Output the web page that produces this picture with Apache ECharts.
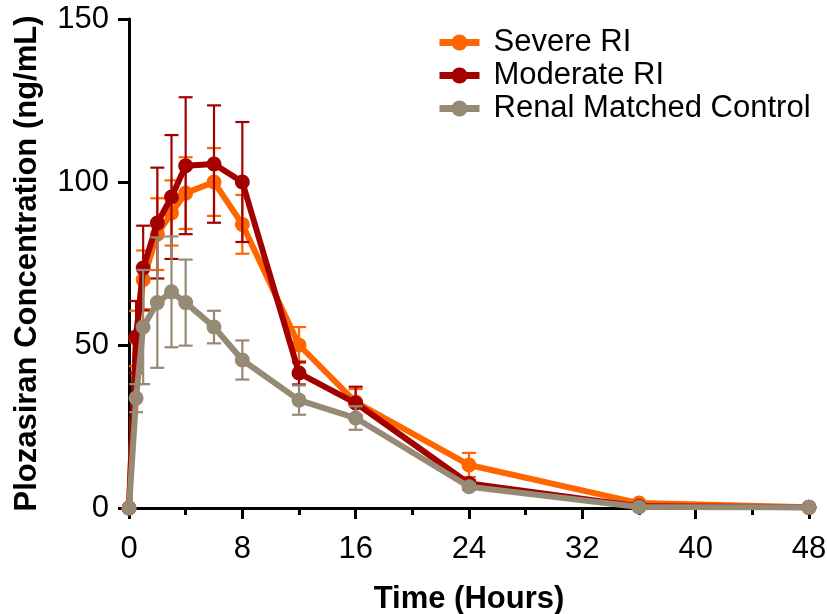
<!DOCTYPE html>
<html>
<head>
<meta charset="utf-8">
<script src="https://cdn.jsdelivr.net/npm/echarts@6/dist/echarts.min.js"></script>
<style>html,body{margin:0;padding:0;background:#fff}#c{width:827px;height:614px}</style>
</head>
<body>
<div id="c"></div>
<script>
const times = [0, 0.5, 1, 2, 3, 4, 6, 8, 12, 16, 24, 36, 48];
const severe = [0, 52, 70, 84, 90.5, 96.6, 100, 87, 50, 32.5, 13.2, 1.5, 0.2];
const severeErr = [0, 8.5, 9, 11, 10, 11, 10.4, 9, 5.5, 4, 3.7, 0.5, 0];
const moderate = [0, 52.5, 73.6, 87.4, 95.4, 105, 105.5, 100, 41.4, 32.2, 7.5, 0.5, 0.2];
const moderateErr = [0, 11, 13, 17, 19, 21, 18, 18.4, 3.5, 5, 1, 0.3, 0];
const control = [0, 33.7, 55.5, 63, 66.3, 63, 55.5, 45.4, 33.1, 27.6, 6.5, 0.3, 0.2];
const controlErr = [0, 4.3, 17.5, 20, 17, 13.2, 5, 6, 4.5, 3.6, 1, 0.2, 0];
const xTicks = [0, 8, 16, 24, 32, 40, 48];
const yTicks = [0, 50, 100, 150];

const names = ['Severe RI', 'Moderate RI', 'Renal Matched Control'];
const colors = ['#FF6600', '#A30000', '#978A74'];
const means = [severe, moderate, control];
const errs = [severeErr, moderateErr, controlErr];
const FONT = '"Liberation Sans", Arial, sans-serif';
const FS = 31;

function errSeries(idx) {
  return {
    type: 'custom',
    name: names[idx] + ' err',
    z: 2 + idx * 2,
    silent: true,
    data: times.map((t, i) => [t, means[idx][i], errs[idx][i]]),
    renderItem: function (params, api) {
      const t = api.value(0), m = api.value(1), e = api.value(2);
      if (!e) return null;
      const top = api.coord([t, m + e]);
      const bot = api.coord([t, m - e]);
      const hw = 7;
      const style = { stroke: colors[idx], lineWidth: 2.2 };
      return {
        type: 'group',
        children: [
          { type: 'line', shape: { x1: top[0], y1: top[1], x2: bot[0], y2: bot[1] }, style },
          { type: 'line', shape: { x1: top[0] - hw, y1: top[1], x2: top[0] + hw, y2: top[1] }, style },
          { type: 'line', shape: { x1: bot[0] - hw, y1: bot[1], x2: bot[0] + hw, y2: bot[1] }, style }
        ]
      };
    }
  };
}
function lineSeries(idx) {
  return {
    type: 'line',
    name: names[idx],
    z: 3 + idx * 2,
    data: times.map((t, i) => [t, means[idx][i]]),
    lineStyle: { color: colors[idx], width: 6 },
    itemStyle: { color: colors[idx] },
    symbol: 'circle',
    symbolSize: 15,
    showSymbol: true
  };
}

const chart = echarts.init(document.getElementById('c'), null, { renderer: 'canvas' });
chart.setOption({
  animation: false,
  textStyle: { fontFamily: FONT },
  grid: { left: 129, right: 18, top: 19, bottom: 106, containLabel: false, outerBoundsMode: 'none' },
  legend: {
    orient: 'vertical',
    left: 431,
    top: 22,
    itemWidth: 40,
    itemHeight: 20,
    itemGap: 2,
    lineStyle: { width: 7 },
    data: names,
    textStyle: { fontSize: FS, color: '#000', fontFamily: FONT, padding: [0, 0, 0, 9] }
  },
  xAxis: {
    type: 'value',
    min: 0, max: 48, interval: 8,
    name: 'Time (Hours)',
    nameLocation: 'middle',
    nameGap: 76,
    nameTextStyle: { fontSize: FS, fontWeight: 'bold', color: '#000', fontFamily: FONT },
    axisLine: { show: true, onZero: false, lineStyle: { color: '#000', width: 3 } },
    axisTick: { show: true, inside: false, length: 11, lineStyle: { color: '#000', width: 3 } },
    minorTick: { show: true, splitNumber: 2, length: 7, lineStyle: { color: '#000', width: 3 } },
    axisLabel: { fontSize: FS, color: '#000', margin: 26, fontFamily: FONT,
      formatter: v => xTicks.includes(v) ? String(v) : '' },
    splitLine: { show: false }
  },
  yAxis: {
    type: 'value',
    min: 0, max: 150, interval: 50,
    name: 'Plozasiran Concentration (ng/mL)',
    nameLocation: 'middle',
    nameGap: 86,
    nameTextStyle: { fontSize: FS, fontWeight: 'bold', color: '#000', fontFamily: FONT },
    axisLine: { show: true, onZero: false, lineStyle: { color: '#000', width: 3 } },
    axisTick: { show: true, inside: false, length: 11, lineStyle: { color: '#000', width: 3 } },
    axisLabel: { fontSize: FS, color: '#000', margin: 20, fontFamily: FONT,
      formatter: v => yTicks.includes(v) ? String(v) : '' },
    splitLine: { show: false }
  },
  series: [errSeries(0), lineSeries(0), errSeries(1), lineSeries(1), errSeries(2), lineSeries(2)]
});
</script>
</body>
</html>
